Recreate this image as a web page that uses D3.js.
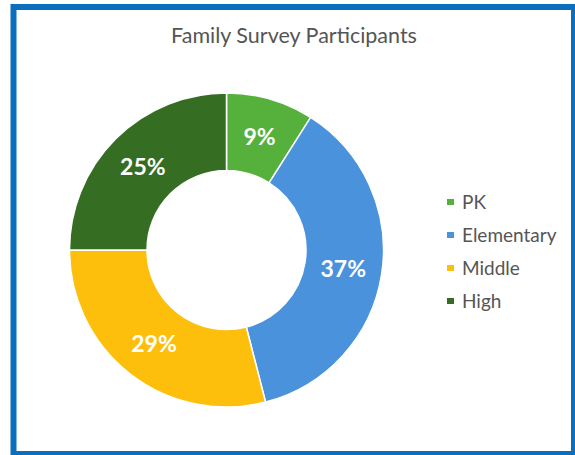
<!DOCTYPE html>
<html>
<head>
<meta charset="utf-8">
<script src="https://cdn.jsdelivr.net/npm/d3@7"></script>
<style>
  html, body { margin: 0; padding: 0; background: #ffffff; }
  svg { display: block; }
</style>
</head>
<body>
<svg id="chart" width="575" height="455"></svg>
<script>
// Survey participants by school level
const categories = ["PK", "Elementary", "Middle", "High"];
const percents = [9, 37, 29, 25];
const colors = ["#55b13b", "#4a92dc", "#fdbf0b", "#356e22"];
const title = "Family Survey Participants";

const svg = d3.select("#chart");
const W = 575, H = 455;

svg.append("rect").attr("width", W).attr("height", H).attr("fill", "#ffffff");

// blue frame
svg.append("rect")
  .attr("x", 13.5).attr("y", 7)
  .attr("width", 560.5).attr("height", 447)
  .attr("fill", "none")
  .attr("stroke", "#0b6fbd")
  .attr("stroke-width", 6);

svg.append("text")
  .attr("x", 294).attr("y", 43)
  .attr("text-anchor", "middle")
  .attr("font-family", "Lato, 'Open Sans', sans-serif")
  .attr("font-size", 21.5)
  .attr("fill", "#555555")
  .text(title);

const cx = 226.5, cy = 250, outerR = 157, innerR = 79.5;

const pie = d3.pie().sort(null).value(d => d)
  .startAngle(0).endAngle(2 * Math.PI);
const arc = d3.arc().innerRadius(innerR).outerRadius(outerR);
const arcs = pie(percents);

const g = svg.append("g").attr("transform", `translate(${cx},${cy})`);

g.selectAll("path.slice")
  .data(arcs)
  .join("path")
  .attr("class", "slice")
  .attr("d", arc)
  .attr("fill", (d, i) => colors[i])
  .attr("stroke", "#ffffff")
  .attr("stroke-width", 1.5);

g.selectAll("text.pct")
  .data(arcs)
  .join("text")
  .attr("class", "pct")
  .attr("transform", d => `translate(${arc.centroid(d)})`)
  .attr("text-anchor", "middle")
  .attr("dy", "0.36em")
  .attr("font-family", "Lato, 'Open Sans', sans-serif")
  .attr("font-weight", "bold")
  .attr("font-size", 23)
  .attr("fill", "#ffffff")
  .text(d => d.data + "%");

// legend
const legendY = d3.scalePoint().domain(categories).range([202, 301]);
const lg = svg.append("g");
const items = lg.selectAll("g.item")
  .data(categories)
  .join("g")
  .attr("class", "item")
  .attr("transform", d => `translate(447,${legendY(d)})`);

items.append("rect")
  .attr("x", 0).attr("y", -3)
  .attr("width", 7).attr("height", 6)
  .attr("fill", (d, i) => colors[i]);

items.append("text")
  .attr("x", 15).attr("dy", "0.36em")
  .attr("font-family", "Lato, 'Open Sans', sans-serif")
  .attr("font-size", 19)
  .attr("fill", "#555555")
  .text(d => d);
</script>
</body>
</html>
